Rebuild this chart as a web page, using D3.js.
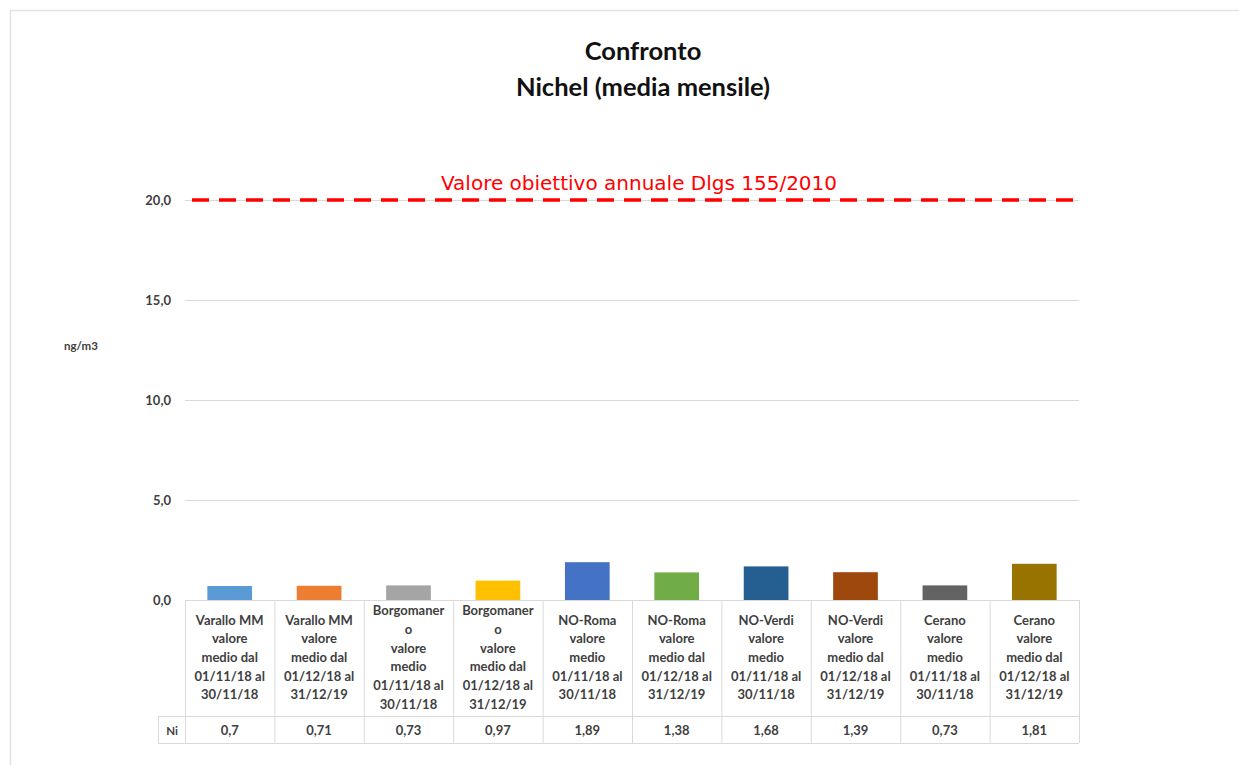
<!DOCTYPE html>
<html>
<head>
<meta charset="utf-8">
<script src="https://cdn.jsdelivr.net/npm/d3@7"></script>
<style>
  html, body { margin: 0; padding: 0; background: #fff; }
  svg { display: block; }
</style>
</head>
<body>
<svg id="chart" width="1239" height="765"></svg>
<script>
// Monthly nickel averages per station and period
const categories = [
  ["Varallo MM", "valore", "medio dal", "01/11/18 al", "30/11/18"],
  ["Varallo MM", "valore", "medio dal", "01/12/18 al", "31/12/19"],
  ["Borgomaner", "o", "valore", "medio", "01/11/18 al", "30/11/18"],
  ["Borgomaner", "o", "valore", "medio dal", "01/12/18 al", "31/12/19"],
  ["NO-Roma", "valore", "medio", "01/11/18 al", "30/11/18"],
  ["NO-Roma", "valore", "medio dal", "01/12/18 al", "31/12/19"],
  ["NO-Verdi", "valore", "medio", "01/11/18 al", "30/11/18"],
  ["NO-Verdi", "valore", "medio dal", "01/12/18 al", "31/12/19"],
  ["Cerano", "valore", "medio", "01/11/18 al", "30/11/18"],
  ["Cerano", "valore", "medio dal", "01/12/18 al", "31/12/19"]
];
const niValues = [0.7, 0.71, 0.73, 0.97, 1.89, 1.38, 1.68, 1.39, 0.73, 1.81];
const niLabels = ["0,7", "0,71", "0,73", "0,97", "1,89", "1,38", "1,68", "1,39", "0,73", "1,81"];
const seriesName = "Ni";
const yTicks = [0, 5, 10, 15, 20];
const targetValue = 20;
const targetLabel = "Valore obiettivo annuale Dlgs 155/2010";
const titleLines = ["Confronto", "Nichel (media mensile)"];
const yAxisTitle = "ng/m3";

// Bar fills
const barColors = ["#5B9BD5", "#ED7D31", "#A5A5A5", "#FFC000", "#4472C4",
                   "#70AD47", "#255E91", "#9E480E", "#636363", "#997300"];

const svg = d3.select("#chart");
const FONT = "Lato, 'Open Sans', sans-serif";
const textColor = "#404040";
const gridColor = "#d9d9d9";

// outer frame
svg.append("rect")
  .attr("x", 10.5).attr("y", 10.5)
  .attr("width", 1240).attr("height", 760)
  .attr("fill", "#fff").attr("stroke", "#e3e3e3").attr("stroke-width", 1.5);

const plot = { left: 185, right: 1079, top: 200, bottom: 600 };
const idx = d3.range(categories.length);

const x = d3.scaleBand().domain(idx).range([plot.left, plot.right])
  .paddingInner(0.5).paddingOuter(0.25);
const cell = d3.scaleBand().domain(idx).range([plot.left, plot.right]).padding(0);
const y = d3.scaleLinear().domain([0, 20]).range([plot.bottom, plot.top]);

// title
svg.append("g").selectAll("text").data(titleLines).join("text")
  .attr("x", 643).attr("y", (d, i) => 60 + i * 36)
  .attr("text-anchor", "middle")
  .attr("font-family", FONT).attr("font-weight", "bold").attr("font-size", 25.5)
  .attr("fill", "#111")
  .text(d => d);

// y axis: gridlines and tick labels
const yAxis = d3.axisLeft(y).tickValues(yTicks)
  .tickSize(-(plot.right - plot.left))
  .tickPadding(14)
  .tickFormat(d => d3.format(".1f")(d).replace(".", ","));
const gy = svg.append("g").attr("transform", `translate(${plot.left},0)`).call(yAxis);
gy.select(".domain").remove();
gy.selectAll(".tick line").attr("stroke", gridColor).attr("stroke-width", 1);
gy.selectAll(".tick text")
  .attr("font-family", FONT).attr("font-weight", "bold").attr("font-size", 13)
  .attr("fill", textColor);

svg.append("text")
  .attr("x", 81).attr("y", 350)
  .attr("text-anchor", "middle")
  .attr("font-family", FONT).attr("font-weight", "bold").attr("font-size", 11.5)
  .attr("fill", textColor)
  .text(yAxisTitle);

// bars
svg.append("g").selectAll("rect").data(niValues).join("rect")
  .attr("x", (d, i) => x(i))
  .attr("y", d => y(d))
  .attr("width", x.bandwidth())
  .attr("height", d => y(0) - y(d))
  .attr("fill", (d, i) => barColors[i]);

// target line
svg.append("line")
  .attr("x1", plot.left + 7).attr("x2", plot.right + 4)
  .attr("y1", y(targetValue)).attr("y2", y(targetValue))
  .attr("stroke", "#ff0000").attr("stroke-width", 3.5)
  .attr("stroke-dasharray", "17,10");
svg.append("text")
  .attr("x", 639).attr("y", 190)
  .attr("text-anchor", "middle")
  .attr("font-family", "'DejaVu Sans', sans-serif").attr("font-size", 20)
  .attr("fill", "#ff0000")
  .text(targetLabel);

// data table under the axis
const tableTop = plot.bottom, rowSplit = 716, tableBottom = 743, tableLeft = 158;
const table = svg.append("g").attr("stroke", gridColor).attr("stroke-width", 1);
idx.concat([categories.length]).forEach(i => {
  const xx = i < categories.length ? cell(i) : plot.right;
  table.append("line")
    .attr("x1", xx + 0.5).attr("x2", xx + 0.5)
    .attr("y1", tableTop).attr("y2", tableBottom);
});
table.append("line").attr("x1", tableLeft).attr("x2", plot.right)
  .attr("y1", rowSplit + 0.5).attr("y2", rowSplit + 0.5);
table.append("line").attr("x1", tableLeft).attr("x2", plot.right)
  .attr("y1", tableBottom + 0.5).attr("y2", tableBottom + 0.5);
table.append("line").attr("x1", tableLeft + 0.5).attr("x2", tableLeft + 0.5)
  .attr("y1", rowSplit).attr("y2", tableBottom);

const lineH = 18.7;
const labels = svg.append("g")
  .attr("font-family", FONT).attr("font-weight", "bold").attr("font-size", 13)
  .attr("fill", textColor).attr("text-anchor", "middle");
categories.forEach((lines, i) => {
  const cx = cell(i) + cell.bandwidth() / 2;
  const mid = (tableTop + rowSplit) / 2;
  const first = mid - (lines.length - 1) * lineH / 2 + 4;
  labels.append("text")
    .selectAll("tspan").data(lines).join("tspan")
    .attr("x", cx).attr("y", (d, k) => first + k * lineH)
    .text(d => d);
});

// value row
svg.append("g").selectAll("text").data(niLabels).join("text")
  .attr("x", (d, i) => cell(i) + cell.bandwidth() / 2)
  .attr("y", 735)
  .attr("text-anchor", "middle")
  .attr("font-family", FONT).attr("font-weight", "bold").attr("font-size", 13)
  .attr("fill", textColor)
  .text(d => d);
svg.append("text")
  .attr("x", 172).attr("y", 735)
  .attr("text-anchor", "middle")
  .attr("font-family", FONT).attr("font-weight", "bold").attr("font-size", 11.5)
  .attr("fill", textColor)
  .text(seriesName);
</script>
</body>
</html>
